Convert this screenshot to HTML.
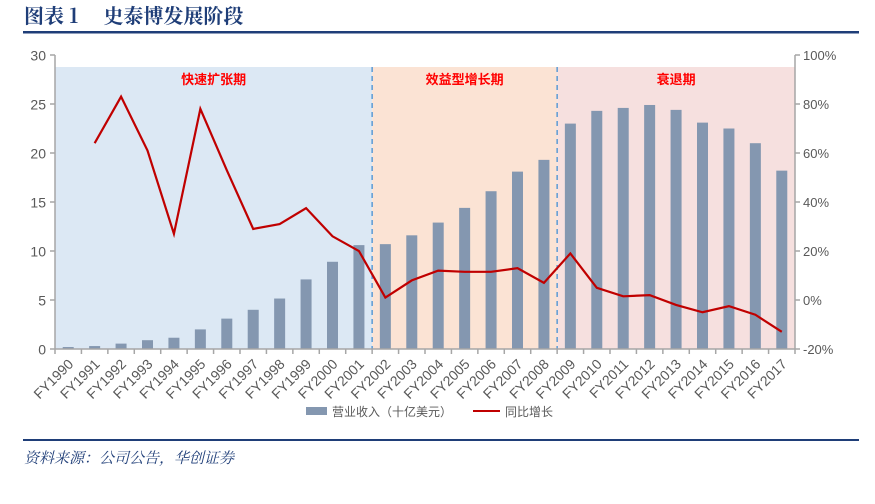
<!DOCTYPE html>
<html><head><meta charset="utf-8"><style>
body{margin:0;width:875px;height:499px;background:#fff;overflow:hidden;font-family:"Liberation Sans","Noto Sans CJK SC",sans-serif}
</style></head><body>
<svg width="875" height="499" xmlns="http://www.w3.org/2000/svg">
<text x="24" y="23" font-size="20" font-weight="bold" fill="#1f3e78" font-family="'Noto Serif CJK SC',serif">图表 1 　史泰博发展阶段</text>
<rect x="23" y="31" width="836" height="2.5" fill="#1f3e78"/>
<g id="bands"></g>
<g id="grid"></g>
<g id="bars"></g>
<g id="line"></g>
<g id="axes"></g>
<g>
<rect x="306" y="407" width="21" height="8" fill="#8497b0"/>
<text x="332" y="416" font-size="12" fill="#595959">营业收入（十亿美元）</text>
<line x1="473" y1="411" x2="500" y2="411" stroke="#c00000" stroke-width="2"/>
<text x="505" y="416" font-size="12" fill="#595959">同比增长</text>
</g>
<rect x="23" y="439" width="836" height="2" fill="#1f3e78"/>
<text x="24" y="463" font-size="15" font-style="italic" fill="#1f3e78" font-family="'Noto Serif CJK SC',serif">资料来源：公司公告，华创证券</text>
</svg>
<script>
const categories=["FY1990","FY1991","FY1992","FY1993","FY1994","FY1995","FY1996","FY1997","FY1998","FY1999","FY2000","FY2001","FY2002","FY2003","FY2004","FY2005","FY2006","FY2007","FY2008","FY2009","FY2010","FY2011","FY2012","FY2013","FY2014","FY2015","FY2016","FY2017"];
const revenue=[0.2,0.3,0.55,0.9,1.15,2.0,3.1,4.0,5.15,7.1,8.9,10.6,10.7,11.6,12.9,14.4,16.1,18.1,19.3,23.0,24.3,24.6,24.9,24.4,23.1,22.5,21.0,18.2];
const growth=[null,64,83,61,27,78,53,29,31,37.5,26,20,1,8,12,11.5,11.5,13,7,19,5,1.5,2,-2,-5,-2.5,-6,-13];
const leftTicks=[0,5,10,15,20,25,30];
const rightTicks=[-20,0,20,40,60,80,100];
const phases=[{name:"快速扩张期",start:0,end:12,fill:"#dce8f4"},{name:"效益型增长期",start:12,end:19,fill:"#fbe3d4"},{name:"衰退期",start:19,end:28,fill:"#f6e0df"}];
const NS="http://www.w3.org/2000/svg";
const X0=55,X1=795,Y0=349,Y1=55,BW=(X1-X0)/categories.length;
const xb=i=>X0+i*BW, xc=i=>X0+(i+0.5)*BW;
const yL=v=>Y0-(v-0)/(30-0)*(Y0-Y1);
const yR=v=>Y0-(v+20)/(120)*(Y0-Y1);
function mk(t,a,p){const e=document.createElementNS(NS,t);for(const k in a)e.setAttribute(k,a[k]);p.appendChild(e);return e;}
const gB=document.getElementById("bands");
phases.forEach((p,k)=>{
 const r=mk("rect",{x:xb(p.start),y:67,width:xb(p.end)-xb(p.start),height:Y0-67,fill:p.fill},gB);
 
 
 const t=mk("text",{x:(xb(p.start)+xb(p.end))/2,y:84,"font-size":13,"font-weight":"bold",fill:"#ff0000","text-anchor":"middle"},gB);
 t.textContent=p.name;
 
 
 if(k>0){const l=mk("line",{x1:xb(p.start),y1:67,x2:xb(p.start),y2:Y0,stroke:"#5b9bd5","stroke-width":1.5,"stroke-dasharray":"5,4"},gB);
 
 }
});
const gBar=document.getElementById("bars");
revenue.forEach((v,i)=>{
 const r=mk("rect",{x:xc(i)-5.5,y:yL(v),width:11,height:Y0-yL(v),fill:"#8497b0"},gBar);
 
 
});
const gL=document.getElementById("line");
let d="";growth.forEach((v,i)=>{if(v===null)return;d+=(d?"L":"M")+xc(i)+","+yR(v);});
const pl=mk("path",{d:d,fill:"none",stroke:"#c00000","stroke-width":2.2,"stroke-linejoin":"miter"},gL);


const gA=document.getElementById("axes");
const ax={stroke:"#a6a6a6","stroke-width":1.5};
mk("line",Object.assign({x1:X0,y1:Y1,x2:X0,y2:Y0},ax),gA);
mk("line",Object.assign({x1:X1,y1:Y1,x2:X1,y2:Y0},ax),gA);
mk("line",Object.assign({x1:X0,y1:Y0,x2:X1,y2:Y0},ax),gA);
leftTicks.forEach(v=>{
 mk("line",Object.assign({x1:X0-5,y1:yL(v),x2:X0,y2:yL(v)},ax),gA);
 const t=mk("text",{x:X0-9,y:yL(v)+5.5,"font-size":14,fill:"#595959","text-anchor":"end"},gA);
 t.textContent=v;
 
 
});
rightTicks.forEach(v=>{
 mk("line",Object.assign({x1:X1,y1:yR(v),x2:X1+5,y2:yR(v)},ax),gA);
 const t=mk("text",{x:X1+8,y:yR(v)+5,"font-size":13,fill:"#595959"},gA);
 t.textContent=v+"%";
 
 
});
categories.forEach((c,i)=>{
 mk("line",Object.assign({x1:xb(i),y1:Y0,x2:xb(i),y2:Y0+5},ax),gA);
 const x=xc(i)+6,y=Y0+16;
 const t=mk("text",{x:x,y:y,"font-size":14,fill:"#595959","text-anchor":"end",transform:`rotate(-45 ${x} ${y})`},gA);
 t.textContent=c;
 
 
});
mk("line",Object.assign({x1:X1,y1:Y0,x2:X1,y2:Y0+5},ax),gA);
</script>
</body></html>
